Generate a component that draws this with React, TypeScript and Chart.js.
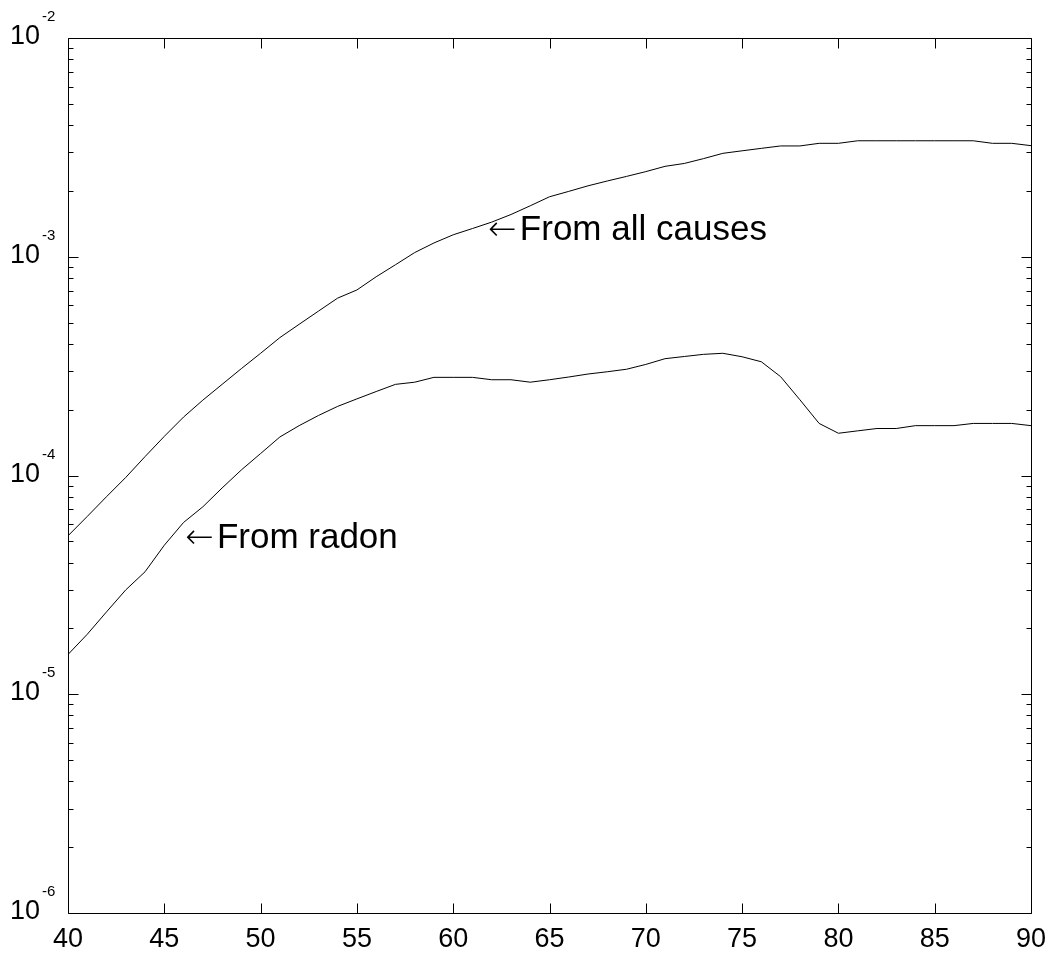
import React, { useEffect, useRef } from 'react';
import { Chart, registerables } from 'chart.js';

Chart.register(...registerables);

const ages = [
  40, 41, 42, 43, 44, 45, 46, 47, 48, 49,
  50, 51, 52, 53, 54, 55, 56, 57, 58, 59,
  60, 61, 62, 63, 64, 65, 66, 67, 68, 69,
  70, 71, 72, 73, 74, 75, 76, 77, 78, 79,
  80, 81, 82, 83, 84, 85, 86, 87, 88, 89, 90,
];

const allCauses = [
  5.3e-5, 6.5e-5, 8.0e-5, 9.8e-5, 1.22e-4, 1.51e-4, 1.85e-4, 2.21e-4, 2.61e-4, 3.08e-4,
  3.62e-4, 4.27e-4, 4.91e-4, 5.64e-4, 6.47e-4, 7.05e-4, 8.1e-4, 9.19e-4, 1.045e-3, 1.156e-3,
  1.26e-3, 1.346e-3, 1.44e-3, 1.56e-3, 1.71e-3, 1.88e-3, 1.99e-3, 2.11e-3, 2.22e-3, 2.33e-3,
  2.45e-3, 2.59e-3, 2.67e-3, 2.81e-3, 2.97e-3, 3.05e-3, 3.13e-3, 3.21e-3, 3.21e-3, 3.3e-3,
  3.3e-3, 3.39e-3, 3.39e-3, 3.39e-3, 3.39e-3, 3.39e-3, 3.39e-3, 3.39e-3, 3.3e-3, 3.3e-3, 3.22e-3,
];

const radon = [
  1.52e-5, 1.88e-5, 2.38e-5, 3.0e-5, 3.63e-5, 4.8e-5, 6.1e-5, 7.19e-5, 8.77e-5, 1.06e-4,
  1.26e-4, 1.5e-4, 1.69e-4, 1.88e-4, 2.07e-4, 2.24e-4, 2.42e-4, 2.61e-4, 2.67e-4, 2.81e-4,
  2.81e-4, 2.81e-4, 2.74e-4, 2.74e-4, 2.67e-4, 2.74e-4, 2.82e-4, 2.91e-4, 2.98e-4, 3.06e-4,
  3.22e-4, 3.42e-4, 3.5e-4, 3.58e-4, 3.62e-4, 3.49e-4, 3.31e-4, 2.83e-4, 2.22e-4, 1.73e-4,
  1.56e-4, 1.6e-4, 1.64e-4, 1.64e-4, 1.69e-4, 1.69e-4, 1.69e-4, 1.73e-4, 1.73e-4, 1.73e-4, 1.69e-4,
];

const xTicks = [40, 45, 50, 55, 60, 65, 70, 75, 80, 85, 90];
const yDecades = [-6, -5, -4, -3, -2];

const arrowGlyph = '\u2190';
const labelAllCauses = 'From all causes';
const labelRadon = 'From radon';
const labelAllCausesAt = { x: 61.8, y: 1.19e-3 };
const labelRadonAt = { x: 46.07, y: 4.67e-5 };

const FONT = 'Arial, "Liberation Sans", Helvetica, sans-serif';
const ARROW_FONT = '"DejaVu Sans", sans-serif';

export default function App() {
  const ref = useRef<HTMLCanvasElement | null>(null);

  useEffect(() => {
    const framePlugin = {
      id: 'matlabFrame',
      afterDraw(chart: any) {
        const { ctx, chartArea, scales } = chart;
        const { left, right, top, bottom } = chartArea;
        const xs = scales.x;
        const ys = scales.y;
        ctx.save();
        ctx.strokeStyle = '#000';
        ctx.lineWidth = 1;
        const L = Math.round(left) + 0.5;
        const R = Math.round(right) + 0.5;
        const T = Math.round(top) + 0.5;
        const B = Math.round(bottom) + 0.5;
        ctx.beginPath();
        ctx.rect(L, T, R - L, B - T);
        xTicks.forEach((v) => {
          const px = Math.round(xs.getPixelForValue(v)) + 0.5;
          ctx.moveTo(px, B);
          ctx.lineTo(px, B - 10);
          ctx.moveTo(px, T);
          ctx.lineTo(px, T + 10);
        });
        yDecades.forEach((e) => {
          for (let k = 1; k <= 9; k++) {
            const val = k * Math.pow(10, e);
            if (val > 1.0001e-2) break;
            const py = Math.round(ys.getPixelForValue(val)) + 0.5;
            const len = k === 1 ? 10 : 5;
            ctx.moveTo(L, py);
            ctx.lineTo(L + len, py);
            ctx.moveTo(R, py);
            ctx.lineTo(R - len, py);
          }
        });
        ctx.stroke();

        ctx.fillStyle = '#000';
        ctx.textBaseline = 'alphabetic';
        yDecades.forEach((e) => {
          const py = ys.getPixelForValue(Math.pow(10, e));
          ctx.font = `27px ${FONT}`;
          ctx.textAlign = 'right';
          ctx.fillText('10', left - 28, py + 6);
          ctx.font = `15px ${FONT}`;
          ctx.textAlign = 'left';
          ctx.fillText(`${e}`, left - 26, py - 17);
        });

        const drawLabel = (text: string, at: { x: number; y: number }) => {
          const px = xs.getPixelForValue(at.x);
          const py = ys.getPixelForValue(at.y);
          ctx.textAlign = 'left';
          ctx.font = `200 34px ${ARROW_FONT}`;
          ctx.fillText(arrowGlyph, px, py);
          ctx.font = `35px ${FONT}`;
          ctx.fillText(text, px + 32, py);
        };
        drawLabel(labelAllCauses, labelAllCausesAt);
        drawLabel(labelRadon, labelRadonAt);
        ctx.restore();
      },
    };

    const chart = new Chart(ref.current as HTMLCanvasElement, {
      type: 'line',
      data: {
        datasets: [
          {
            label: 'From all causes',
            data: ages.map((a, i) => ({ x: a, y: allCauses[i] })),
            borderColor: '#000',
            borderWidth: 1,
            pointRadius: 0,
            tension: 0,
            fill: false,
          },
          {
            label: 'From radon',
            data: ages.map((a, i) => ({ x: a, y: radon[i] })),
            borderColor: '#000',
            borderWidth: 1,
            pointRadius: 0,
            tension: 0,
            fill: false,
          },
        ],
      },
      options: {
        animation: false,
        responsive: true,
        maintainAspectRatio: false,
        layout: { padding: { top: 38, right: 22, left: 0, bottom: 0 } },
        plugins: {
          legend: { display: false },
          tooltip: { enabled: false },
        },
        scales: {
          x: {
            type: 'linear',
            min: 40,
            max: 90,
            ticks: {
              stepSize: 5,
              color: '#000',
              font: { family: FONT, size: 27 },
              padding: 10,
              maxRotation: 0,
              autoSkip: false,
            },
            grid: { display: false, drawTicks: false },
            border: { display: false },
            afterFit: (s: any) => {
              s.height = 42;
              s.paddingLeft = 0;
              s.paddingRight = 0;
            },
          },
          y: {
            type: 'logarithmic',
            min: 1e-6,
            max: 1e-2,
            ticks: { display: false },
            grid: { display: false, drawTicks: false },
            border: { display: false },
            afterFit: (s: any) => {
              s.width = 68;
            },
          },
        },
      },
      plugins: [framePlugin],
    } as any);

    return () => chart.destroy();
  }, []);

  return (
    <div
      style={{
        position: 'fixed',
        left: 0,
        top: 0,
        width: 1053,
        height: 955,
        background: '#fff',
      }}
    >
      <canvas ref={ref} />
    </div>
  );
}
